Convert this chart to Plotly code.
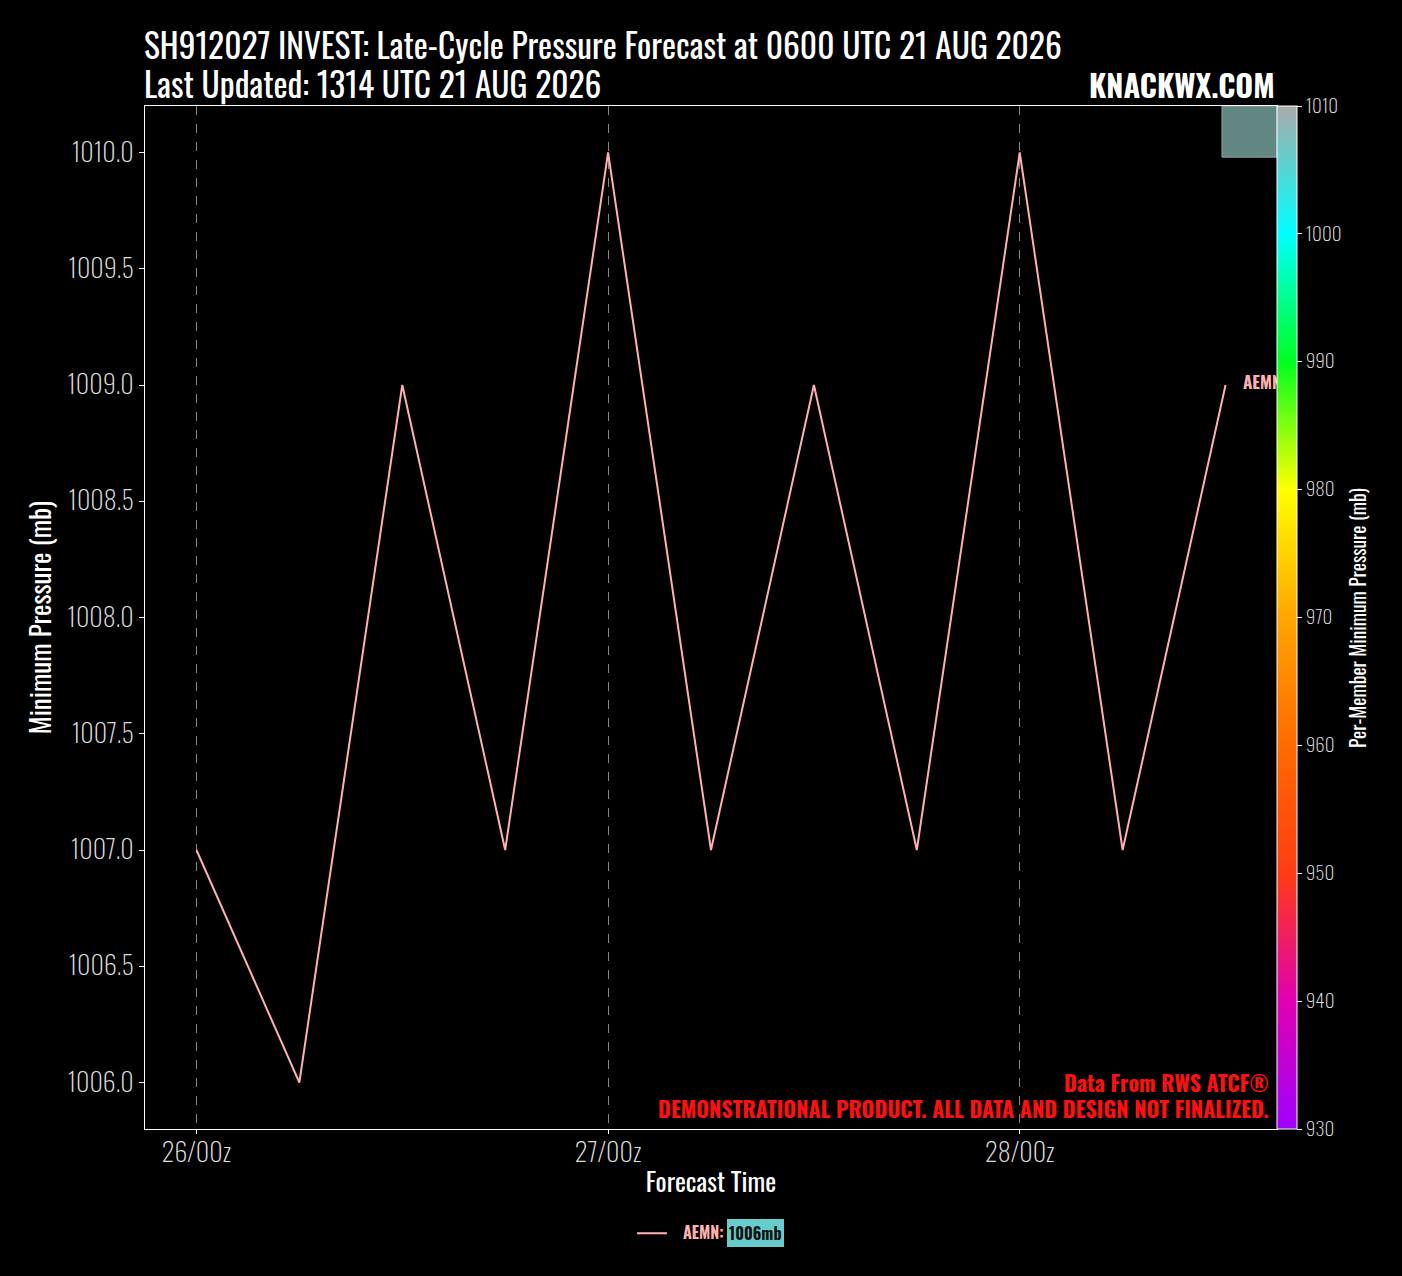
"""
Late-cycle minimum pressure forecast plot (single member, AEMN).
"""
import plotly.graph_objects as go

# Forecast data
forecast_times = [
    "2026-08-26 00:00", "2026-08-26 06:00", "2026-08-26 12:00", "2026-08-26 18:00",
    "2026-08-27 00:00", "2026-08-27 06:00", "2026-08-27 12:00", "2026-08-27 18:00",
    "2026-08-28 00:00", "2026-08-28 06:00", "2026-08-28 12:00",
]
aemn_pressure = [1007, 1006, 1009, 1007, 1010, 1007, 1009, 1007, 1010, 1007, 1009]
member_name = "AEMN"
member_min = 1006

tick_times = ["2026-08-26 00:00", "2026-08-27 00:00", "2026-08-28 00:00"]
tick_labels = ["26/00z", "27/00z", "28/00z"]

cbar_ticks = [930, 940, 950, 960, 970, 980, 990, 1000, 1010]
cbar_colors = [
    "#a000ff", "#e000b0", "#ff3c14", "#ff6a00", "#ffa500",
    "#ffff00", "#00ff20", "#00ffff", "#aaaaaa",
]

FONT = "Oswald, 'DejaVu Sans Condensed', 'Liberation Sans Narrow', sans-serif"
LINE_COLOR = "#ffb0b0"
CB_MIN, CB_MAX = 930, 1010

colorscale = [
    [(v - CB_MIN) / (CB_MAX - CB_MIN), c] for v, c in zip(cbar_ticks, cbar_colors)
]

fig = go.Figure()

# Member track
fig.add_trace(
    go.Scatter(
        x=forecast_times,
        y=aemn_pressure,
        mode="lines",
        line=dict(color=LINE_COLOR, width=2),
        name=f"&nbsp;&nbsp;&nbsp;<b>{member_name}:</b>",
        showlegend=True,
    )
)

# End-of-track label (clipped at the plot edge like the original)
fig.add_trace(
    go.Scatter(
        x=[forecast_times[-1]],
        y=[aemn_pressure[-1]],
        mode="text",
        text=[f"<b>&nbsp;&nbsp;&nbsp;&nbsp;{member_name}</b>"],
        textposition="middle right",
        textfont=dict(family=FONT, size=17, color=LINE_COLOR),
        cliponaxis=True,
        showlegend=False,
        hoverinfo="skip",
    )
)

# Invisible carrier for the colorbar
fig.add_trace(
    go.Scatter(
        x=[forecast_times[0]],
        y=[aemn_pressure[0]],
        mode="markers",
        marker=dict(
            color=[member_min],
            colorscale=colorscale,
            cmin=CB_MIN,
            cmax=CB_MAX,
            opacity=0,
            showscale=True,
            colorbar=dict(
                x=1.0,
                xanchor="left",
                xpad=0,
                ypad=0,
                y=0.5,
                len=1,
                thickness=20,
                outlinecolor="white",
                outlinewidth=1,
                tickvals=cbar_ticks,
                ticks="outside",
                ticklen=5,
                tickcolor="white",
                tickfont=dict(family=FONT, size=19, color="#dddddd", weight=200),
            ),
        ),
        showlegend=False,
        hoverinfo="skip",
    )
)

# Shaded box in the upper-right corner
fig.add_shape(
    type="rect", xref="paper", yref="paper",
    x0=0.9514, x1=1.0, y0=0.950, y1=1.0,
    fillcolor="#628782", line=dict(color="#8aa9a5", width=1), layer="below",
)

fig.update_layout(
    width=1402,
    height=1276,
    paper_bgcolor="black",
    plot_bgcolor="black",
    font=dict(family=FONT, color="white"),
    margin=dict(l=145, r=125, t=106, b=147),
    showlegend=True,
    legend=dict(
        orientation="h",
        x=(632 - 145) / 1132,
        xanchor="left",
        y=-0.102,
        yanchor="middle",
        bgcolor="rgba(0,0,0,0)",
        font=dict(family=FONT, size=16, color=LINE_COLOR),
    ),
)

fig.update_xaxes(
    type="date",
    range=["2026-08-25 21:00", "2026-08-28 15:00"],
    tickvals=tick_times,
    ticktext=tick_labels,
    ticks="outside",
    ticklen=4,
    tickcolor="white",
    tickfont=dict(family=FONT, size=26, color="#dddddd", weight=200),
    ticklabelstandoff=-3,
    showgrid=True,
    gridcolor="#888888",
    griddash="dash",
    gridwidth=1,
    showline=True,
    linecolor="white",
    linewidth=1,
    mirror=True,
    zeroline=False,
    title=dict(text="Forecast Time", font=dict(family=FONT, size=26, color="white"), standoff=4),
)

fig.update_yaxes(
    range=[1005.8, 1010.2],
    dtick=0.5,
    tickformat=".1f",
    ticks="outside",
    ticklen=5,
    tickcolor="white",
    tickfont=dict(family=FONT, size=26, color="#dddddd", weight=200),
    showgrid=False,
    showline=True,
    linecolor="white",
    linewidth=1,
    mirror=True,
    zeroline=False,
    title=dict(text="Minimum Pressure (mb)", font=dict(family=FONT, size=27, color="white"), standoff=7),
)

# Two-line title
fig.add_annotation(
    text="SH912027 INVEST: Late-Cycle Pressure Forecast at 0600 UTC 21 AUG 2026",
    xref="paper", yref="paper", x=0.0, y=1.0543, xanchor="left", yanchor="middle",
    xshift=-3, yshift=6,
    showarrow=False, font=dict(family=FONT, size=33.5, color="white"),
)
fig.add_annotation(
    text="Last Updated: 1314 UTC 21 AUG 2026",
    xref="paper", yref="paper", x=0.0, y=1.0156, xanchor="left", yanchor="middle",
    xshift=-3, yshift=7,
    showarrow=False, font=dict(family=FONT, size=33.5, color="white"),
)

# Colorbar title
fig.add_annotation(
    text="Per-Member Minimum Pressure (mb)",
    xref="paper", yref="paper", x=(1357 - 145) / 1132, y=0.4995,
    xanchor="center", yanchor="middle", textangle=-90,
    showarrow=False, font=dict(family=FONT, size=19.5, color="white"),
)

# Branding and disclaimers
fig.add_annotation(
    text="<b>KNACKWX.COM</b>", xref="paper", yref="paper",
    x=1.0, y=1.0, xanchor="right", yanchor="bottom", yshift=-3,
    showarrow=False, font=dict(family=FONT, size=30.5, color="white"),
)
fig.add_annotation(
    text="<b>Data From RWS ATCF®</b>",
    xref="paper", yref="paper", x=0.993, y=0.042, xanchor="right", yanchor="middle",
    xshift=2, yshift=4,
    showarrow=False, font=dict(family=FONT, size=22, color="#ff1010"),
)
fig.add_annotation(
    text="<b>DEMONSTRATIONAL PRODUCT. ALL DATA AND DESIGN NOT FINALIZED.</b>",
    xref="paper", yref="paper", x=0.993, y=0.0166, xanchor="right", yanchor="middle",
    xshift=2, yshift=4,
    showarrow=False, font=dict(family=FONT, size=22, color="#ff1010"),
)

# Minimum pressure badge beside the legend entry
fig.add_annotation(
    text=f"<b>{member_min}mb</b>", xref="paper", yref="paper",
    x=(727 - 145) / 1132, y=-0.102, xanchor="left", yanchor="middle",
    showarrow=False, bgcolor="#66cccc", bordercolor="#66cccc", borderpad=1,
    font=dict(family=FONT, size=16, color="#111111"),
)

fig.write_html(
    "out.html",
    config={"displayModeBar": False},
    post_script="document.body.style.margin='0';document.body.style.background='black';",
)
